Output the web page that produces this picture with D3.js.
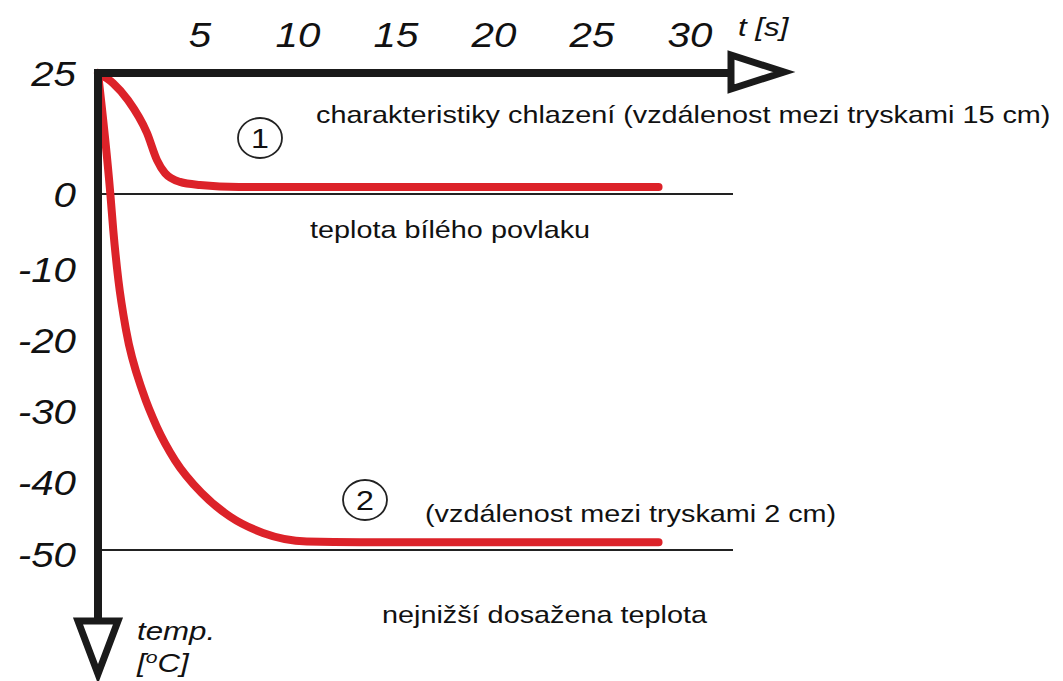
<!DOCTYPE html>
<html>
<head>
<meta charset="utf-8">
<script src="https://cdn.jsdelivr.net/npm/d3@7"></script>
<style>
  html, body { margin: 0; padding: 0; background: #fff; }
  svg text { font-family: "Liberation Sans", Arial, sans-serif; fill: #111; }
</style>
</head>
<body>
<svg id="chart" width="1063" height="681"></svg>
<script>
// tick labels
var timeTicks = [5, 10, 15, 20, 25, 30];
var tempTicks = [25, 0, -10, -20, -30, -40, -50];

// curve 1 (jets 15 cm apart)
var curve1Time = [0, 0.77, 1.53, 2.5, 3.01, 3.42, 4.18, 5.2, 7.2, 28.6];
var curve1Temp = [25, 22.9, 19.4, 12.6, 7.0, 4.3, 2.5, 1.86, 1.45, 1.45];

// curve 2 (jets 2 cm apart)
var curve2Time = [0, 0.63, 0.78, 1.04, 1.43, 2.31, 3.0, 3.93, 5.29, 6.73, 8.42, 10.65, 13.4, 28.6];
var curve2Temp = [25, 0, -5.1, -12.1, -19.1, -28.0, -32.7, -37.4, -42.0, -45.3, -47.6, -48.8, -48.9, -48.9];

// reference levels
var refLevels = [0, -50];

var svg = d3.select('#chart');

// the temperature axis is not linear: 0..25 is squeezed
var x = d3.scaleLinear().domain([0, 30]).range([98, 686]);
var y = d3.scaleLinear().domain([25, 0, -50]).range([73, 194, 550]);

var red = '#dc2229';

// text drawn with a horizontal stretch (the original drawing is wider than tall)
function label(parent, px, py, size, italic, sx) {
  return parent.append('text')
    .attr('transform', 'translate(' + px + ',' + py + ') scale(' + (sx || 1.2) + ',1)')
    .style('font-size', size + 'px')
    .style('font-style', italic ? 'italic' : 'normal');
}

// reference lines
svg.selectAll('line.ref')
  .data(refLevels)
  .enter().append('line')
  .attr('class', 'ref')
  .attr('x1', x(0)).attr('x2', 733)
  .attr('y1', function (d) { return y(d); })
  .attr('y2', function (d) { return y(d); })
  .attr('stroke', '#222')
  .attr('stroke-width', 2);

// curves
var line = d3.line()
  .x(function (d) { return x(d[0]); })
  .y(function (d) { return y(d[1]); })
  .curve(d3.curveMonotoneX);

[[curve1Time, curve1Temp], [curve2Time, curve2Temp]].forEach(function (c) {
  svg.append('path')
    .datum(d3.zip(c[0], c[1]))
    .attr('d', line)
    .attr('fill', 'none')
    .attr('stroke', red)
    .attr('stroke-width', 8)
    .attr('stroke-linecap', 'round')
    .attr('stroke-linejoin', 'round');
});

// axes (drawn over the curve start)
var axisG = svg.append('g');
axisG.append('line')
  .attr('x1', x(0) - 4).attr('x2', 731)
  .attr('y1', y(25)).attr('y2', y(25))
  .attr('stroke', '#1a1a1a').attr('stroke-width', 8);
axisG.append('line')
  .attr('x1', x(0)).attr('x2', x(0))
  .attr('y1', y(25) - 4).attr('y2', 621)
  .attr('stroke', '#1a1a1a').attr('stroke-width', 8);

// arrow heads
axisG.append('path')
  .attr('d', 'M731,55L731,89L784,72Z')
  .attr('fill', '#fff').attr('stroke', '#1a1a1a').attr('stroke-width', 7)
  .attr('stroke-linejoin', 'miter');
axisG.append('path')
  .attr('d', 'M' + (x(0) - 20) + ',621L' + (x(0) + 20) + ',621L' + x(0) + ',674Z')
  .attr('fill', '#fff').attr('stroke', '#1a1a1a').attr('stroke-width', 7)
  .attr('stroke-linejoin', 'miter');

// time tick labels
timeTicks.forEach(function (d) {
  label(svg, x(d) + 4, 47, 35, true, 1.15).attr('text-anchor', 'middle').text(d);
});
label(svg, 738, 36, 25, true, 1.25).text('t [s]');

// temperature tick labels
tempTicks.forEach(function (d) {
  label(svg, 76, y(d) + (d < 0 ? 4 : 0), 35, true, 1.15)
    .attr('text-anchor', 'end').attr('dy', '0.36em').text(d);
});

label(svg, 137, 640, 25, true, 1.25).text('temp.');
var deg = label(svg, 137, 672, 25, true, 1.25);
deg.append('tspan').text('[');
deg.append('tspan').attr('dy', -9).style('font-size', '17px').text('o');
deg.append('tspan').attr('dy', 9).text('C]');

// annotations
var notes = [
  { x: 316, y: 123, t: 'charakteristiky chlazení (vzdálenost mezi tryskami 15 cm)' },
  { x: 310, y: 238, t: 'teplota bílého povlaku' },
  { x: 425, y: 522, t: '(vzdálenost mezi tryskami 2 cm)' },
  { x: 382, y: 623, t: 'nejnižší dosažena teplota' }
];
notes.forEach(function (d) {
  label(svg, d.x, d.y, 24, false, 1.2).text(d.t);
});

// circled numbers
var marks = [{ x: 260, y: 138, n: '1' }, { x: 365, y: 500, n: '2' }];
marks.forEach(function (d) {
  svg.append('ellipse')
    .attr('cx', d.x).attr('cy', d.y).attr('rx', 22).attr('ry', 20)
    .attr('fill', 'none').attr('stroke', '#222').attr('stroke-width', 1.8);
  label(svg, d.x, d.y, 28, false, 1.15).attr('text-anchor', 'middle').attr('dy', '0.36em').text(d.n);
});
</script>
</body>
</html>
